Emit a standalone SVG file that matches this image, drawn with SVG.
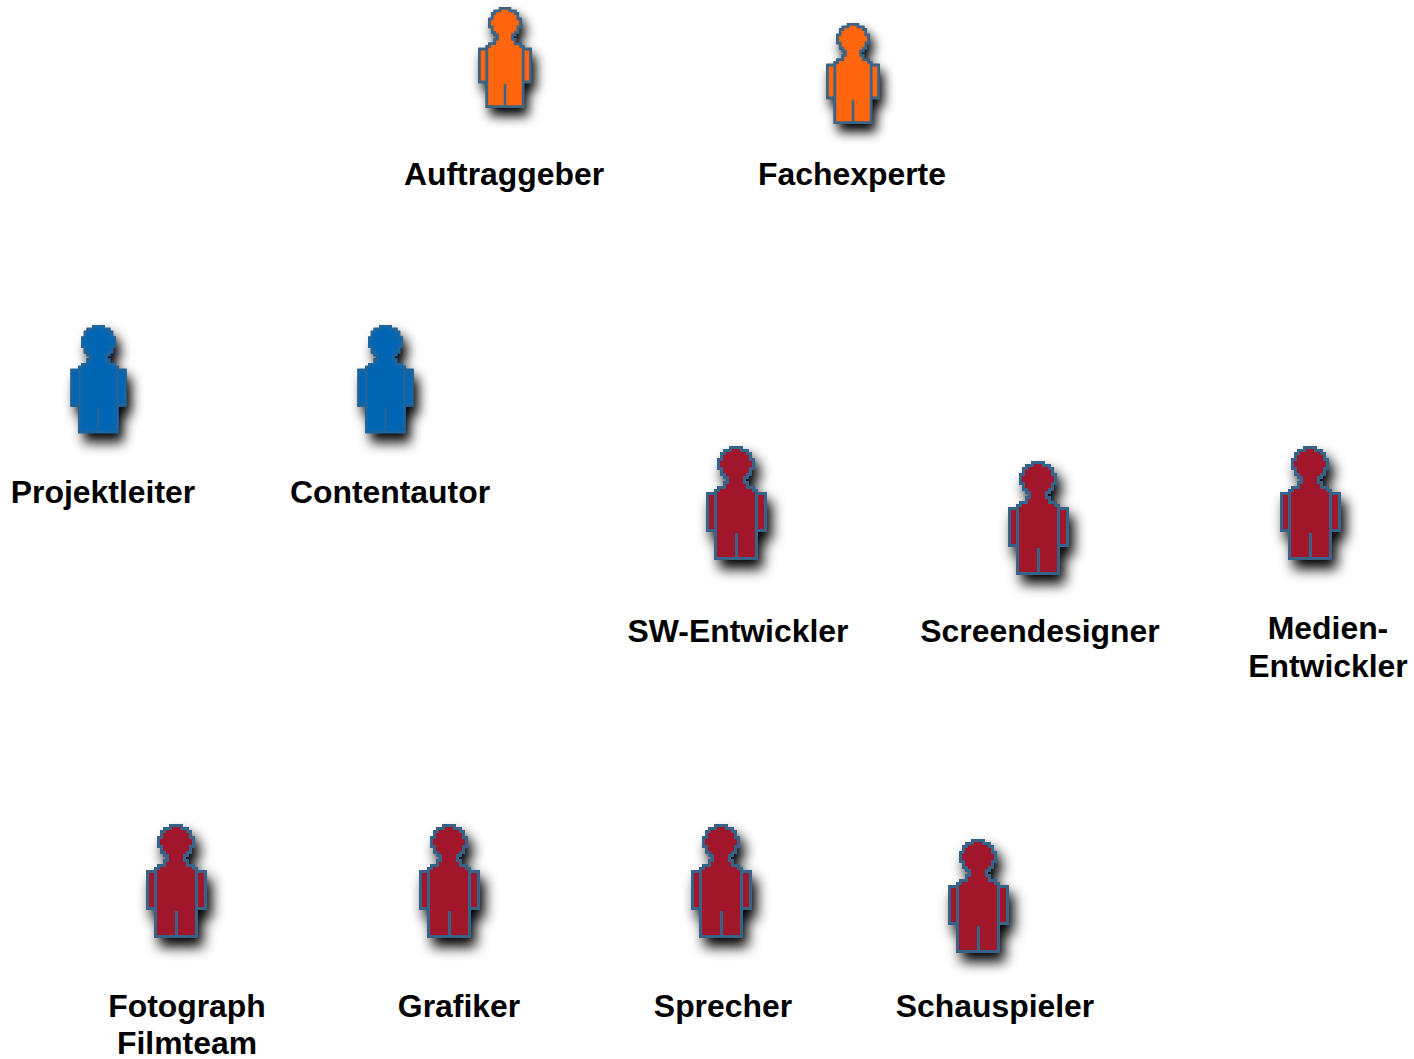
<svg xmlns="http://www.w3.org/2000/svg" xmlns:xlink="http://www.w3.org/1999/xlink" width="1414" height="1059" viewBox="0 0 1414 1059">
<style>
.lbl{font-family:"Liberation Sans",Arial,sans-serif;font-weight:700;font-size:31.9px;fill:#000;text-anchor:middle}
.fig{stroke-width:3;stroke-linejoin:miter}
.red{fill:#a0152c;stroke:#376488;filter:url(#shadowCrisp)}
.redfig{shape-rendering:crispEdges}
.orange{fill:#ff6611;stroke:#3d6485;filter:url(#shadowSoft)}
.blue{fill:#0066b3;stroke:#1f659f;filter:url(#shadowSoft)}
</style>
<defs>
<filter id="shadowCrisp" x="-50%" y="-30%" width="210%" height="180%">
<feGaussianBlur in="SourceAlpha" stdDeviation="6.500"/><feOffset dx="5" dy="9"/><feComponentTransfer><feFuncA type="linear" slope="1"/></feComponentTransfer>
<feMerge><feMergeNode/><feMergeNode in="SourceGraphic"/></feMerge>
</filter>
<filter id="shadowSoft" x="-50%" y="-30%" width="210%" height="180%">
<feGaussianBlur in="SourceAlpha" stdDeviation="6.500"/><feOffset dx="5" dy="9"/><feComponentTransfer><feFuncA type="linear" slope="1"/></feComponentTransfer><feComposite in2="SourceAlpha" operator="over" result="s"/>
<feGaussianBlur in="SourceGraphic" stdDeviation="0.8" result="g"/>
<feMerge><feMergeNode in="s"/><feMergeNode in="g"/></feMerge>
</filter>
<g id="person">
<path class="fig" d="M-29,47.500H-20.500V84.500H-29ZM20.500,47.500H29V84.500H20.500Z"/>
<path class="fig" d="M-5.500,1.500H5.500V4.500H11.500V7.500H14.500V13.500H17.500V22.500H14.500V28.500H11.500V31.500H8.500V36.500H11.500V41.500H17.500V44.500H20.500V112.500H-20.500V44.500H-17.500V41.500H-11.500V36.500H-8.500V31.500H-11.500V28.500H-14.500V22.500H-17.500V13.500H-14.500V7.500H-11.500V4.500H-5.500Z"/>
<path class="fig" fill="none" d="M0,87V112"/>
</g>
</defs>
<g id="auftraggeber"><use xlink:href="#person" href="#person" class="orange" transform="translate(505 7) scale(.88 .886)"/><text class="lbl" x="504" y="185">Auftraggeber</text></g>
<g id="fachexperte"><use xlink:href="#person" href="#person" class="orange" transform="translate(853 23) scale(.88 .886)"/><text class="lbl" x="852" y="185">Fachexperte</text></g>
<g id="projektleiter"><use xlink:href="#person" href="#person" class="blue" transform="translate(98.500 325) scale(.92 .95)"/><text class="lbl" x="103" y="503">Projektleiter</text></g>
<g id="contentautor"><use xlink:href="#person" href="#person" class="blue" transform="translate(385.500 325) scale(.92 .95)"/><text class="lbl" x="390" y="503">Contentautor</text></g>
<g id="sw-entwickler"><use xlink:href="#person" href="#person" class="red redfig" transform="translate(736 446)"/><text class="lbl" x="738" y="642">SW-Entwickler</text></g>
<g id="screendesigner"><use xlink:href="#person" href="#person" class="red redfig" transform="translate(1038 461)"/><text class="lbl" x="1040" y="642">Screendesigner</text></g>
<g id="medien-entwickler"><use xlink:href="#person" href="#person" class="red redfig" transform="translate(1310 446)"/><text class="lbl" x="1328" y="639">Medien-</text><text class="lbl" x="1328" y="677">Entwickler</text></g>
<g id="fotograph-filmteam"><use xlink:href="#person" href="#person" class="red redfig" transform="translate(176 824)"/><text class="lbl" x="187" y="1017">Fotograph</text><text class="lbl" x="187" y="1054">Filmteam</text></g>
<g id="grafiker"><use xlink:href="#person" href="#person" class="red redfig" transform="translate(449 824)"/><text class="lbl" x="459" y="1017">Grafiker</text></g>
<g id="sprecher"><use xlink:href="#person" href="#person" class="red redfig" transform="translate(721 824)"/><text class="lbl" x="723" y="1017">Sprecher</text></g>
<g id="schauspieler"><use xlink:href="#person" href="#person" class="red redfig" transform="translate(978 839)"/><text class="lbl" x="995" y="1017">Schauspieler</text></g>
<g id="connectors"></g>
</svg>
